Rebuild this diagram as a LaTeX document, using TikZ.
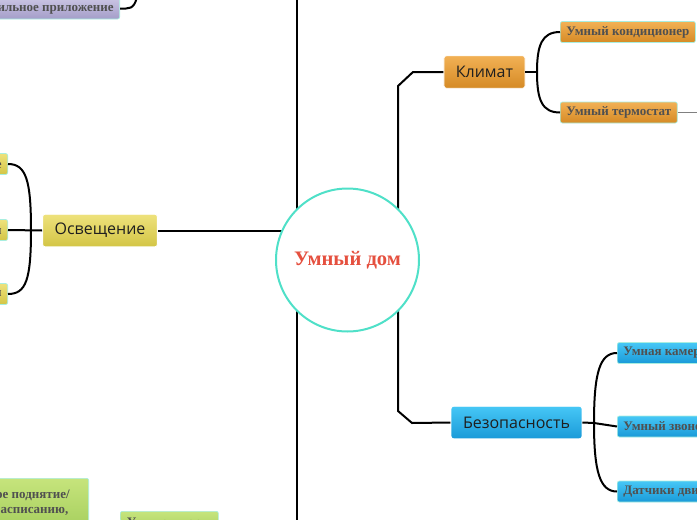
\documentclass[tikz,border=0pt]{standalone}
\usepackage{fontspec}
\setmainfont{Liberation Serif}
\newfontfamily\branchfont{Open Sans}
\usetikzlibrary{backgrounds}
\definecolor{ringcol}{HTML}{4FE0C8}
\definecolor{homered}{HTML}{E5503F}
\definecolor{leaftext}{HTML}{505050}
\definecolor{leafrim}{HTML}{A8EEE0}
\definecolor{yeltop}{HTML}{EEE27C}
\definecolor{yelbot}{HTML}{D3C545}
\definecolor{ortop}{HTML}{F2B155}
\definecolor{orbot}{HTML}{D58A25}
\definecolor{bltop}{HTML}{46C7F6}
\definecolor{blbot}{HTML}{1A9AD8}
\definecolor{purtop}{HTML}{CAC5E4}
\definecolor{purbot}{HTML}{A49DC8}
\definecolor{grtop}{HTML}{C6E47C}
\definecolor{grbot}{HTML}{A6CF5E}
\begin{document}
\begin{tikzpicture}[x=1pt,y=-1pt,
    conn/.style={line width=2pt},
    branch/.style={rounded corners=2.5pt, draw=white, line width=0.8pt, inner xsep=12pt,
        minimum height=32.5pt, font=\branchfont\fontsize{16}{19}\selectfont, text=black!88},
    leaf/.style={rounded corners=2pt, draw=leafrim, line width=0.7pt, inner xsep=6pt,
        inner ysep=0pt, minimum height=21pt, font=\bfseries\fontsize{13}{15}\selectfont, text=leaftext},
    yel/.style={top color=yeltop, bottom color=yelbot},
    orn/.style={top color=ortop, bottom color=orbot},
    blu/.style={top color=bltop, bottom color=blbot},
    pur/.style={top color=purtop, bottom color=purbot},
    grn/.style={top color=grtop, bottom color=grbot}]
    \useasboundingbox (0,0) rectangle (697,520);
    \clip (0,0) rectangle (697,520);
    % centre
    \node[circle, draw=ringcol, line width=2pt, fill=white, minimum size=143pt,
        text=homered, font=\bfseries\fontsize{20.6}{24}\selectfont] (home) at (347.5,260) {Умный дом};
    % main branches
    \node[branch, yel] (osv) at (100,230.5) {Освещение};
    \node[branch, orn] (klimat) at (484.5,72) {Климат};
    \node[branch, blu] (bezop) at (516.5,422.5) {Безопасность};
    % leaves
    \node[leaf, pur, anchor=east] (mobile) at (120,8.5) {Мобильное приложение};
    \node[leaf, yel, anchor=east] (svet1) at (8,164) {Умное затемнение};
    \node[leaf, yel, anchor=east] (svet2) at (8,230) {Умные лампочки};
    \node[leaf, yel, anchor=east] (svet3) at (8,294) {Датчики освещенности};
    \node[leaf, orn, anchor=west] (kond) at (560,32) {Умный кондиционер};
    \node[leaf, orn, anchor=west] (termo) at (560,112.5) {Умный термостат};
    \node[leaf, blu, anchor=west] (kamera) at (617,353) {Умная камера};
    \node[leaf, blu, anchor=west] (zvonok) at (617,426.5) {Умный звонок};
    \node[leaf, blu, anchor=west] (datchik) at (617,491.5) {Датчики движения};
    \node[leaf, grn, anchor=north east, align=left, inner ysep=5pt, minimum height=50pt]
        (shtory1) at (89,478) {Автоматическое поднятие/\kern13pt\\опускание по расписанию,};
    \node[leaf, grn, anchor=north west, minimum width=98pt, minimum height=24pt]
        (shtory2) at (120,511) {Умные шторы};
    \coordinate (upbranch) at (297,-10);
    \coordinate (downbranch) at (297,530);
    \coordinate (termoout) at (710,112.5);
    \begin{scope}[on background layer]
    \draw[conn] (upbranch) -- (downbranch);
    \draw[conn] (osv.east) -- (osv.east -| home.center);
    \draw[conn] (klimat.west) -- (413,72) -- (398,86) -- (398,411) -- (412,423) -- (bezop.west);
    \end{scope}
    % brackets
    \draw[conn] (mobile.east) -- (126,8.5) .. controls (133,8.5) and (137,4) .. (138,-12);
    \draw[conn] (osv.west) -- (svet2.east);
    \draw[conn] (svet1.east) .. controls (26,164) and (31,180) .. (31,230)
        .. controls (31,280) and (26,294) .. (svet3.east);
    \draw[conn] (klimat.east) -- (537,72);
    \draw[conn] (kond.west) .. controls (542,32) and (537,45) .. (537,72)
        .. controls (537,100) and (542,112.5) .. (termo.west);
    \draw[gray, line width=0.7pt] (termo.east) -- (termoout);
    \draw[conn] (bezop.east) -- (594,423) -- (zvonok.west);
    \draw[conn] (kamera.west) .. controls (600,353) and (594,372) .. (594,423)
        .. controls (594,472) and (600,491.5) .. (datchik.west);
\end{tikzpicture}
\end{document}
